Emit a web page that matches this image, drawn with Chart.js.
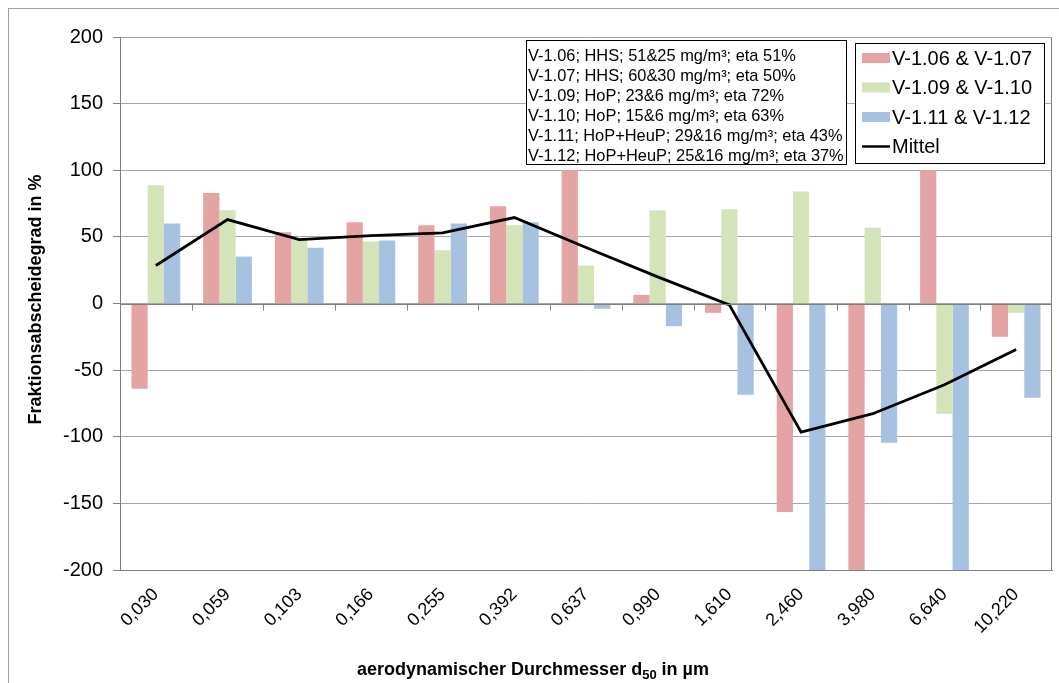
<!DOCTYPE html>
<html>
<head>
<meta charset="utf-8">
<script src="https://cdn.jsdelivr.net/npm/chart.js@4.4.1/dist/chart.umd.min.js"></script>
<style>
  html, body { margin: 0; padding: 0; background: #fff; }
  #wrap { width: 1059px; height: 683px; position: relative; }
</style>
</head>
<body>
<div id="wrap"><canvas id="c" width="1059" height="683"></canvas></div>
<script>
// d50 classes (µm)
const categories = ['0,030', '0,059', '0,103', '0,166', '0,255', '0,392', '0,637', '0,990', '1,610', '2,460', '3,980', '6,640', '10,220'];

// Fraktionsabscheidegrad in %
const v0607 = [-64, 83, 53.5, 61, 58.7, 73, 100, 6.5, -7, -156.5, -201, 100, -25];
const v0910 = [88.7, 70, 48, 46.5, 40, 58.7, 28.5, 69.8, 70.8, 84, 56.8, -82.8, -7];
const v1112 = [60, 35.2, 41.8, 47.2, 60, 61, -4, -17, -68.5, -217, -104.5, -205, -70.8];
const mittel = [28.5, 63, 48, 51, 53, 64.5, 42, 20, -1, -96.5, -82.7, -61, -34.5];

const seriesNames = ['V-1.06 & V-1.07', 'V-1.09 & V-1.10', 'V-1.11 & V-1.12', 'Mittel'];
const seriesColors = ['#e5a4a4', '#d5e3b8', '#a7c1e1', '#000000'];

const yTicks = [-200, -150, -100, -50, 0, 50, 100, 150, 200];

const notes = [
    'V-1.06; HHS; 51&25 mg/m³; eta 51%',
    'V-1.07; HHS; 60&30 mg/m³; eta 50%',
    'V-1.09; HoP; 23&6 mg/m³; eta 72%',
    'V-1.10; HoP; 15&6 mg/m³; eta 63%',
    'V-1.11; HoP+HeuP; 29&16 mg/m³; eta 43%',
    'V-1.12; HoP+HeuP; 25&16 mg/m³; eta 37%'
];

const FONT = "'Liberation Sans', Arial, sans-serif";

// frame, right border, tick marks on the zero line
const framePlugin = {
    id: 'frame',
    beforeDraw(chart) {
        const ctx = chart.ctx;
        ctx.save();
        ctx.fillStyle = '#fff';
        ctx.fillRect(0, 0, chart.width, chart.height);
        ctx.strokeStyle = '#a0a0a0';
        ctx.lineWidth = 1;
        ctx.strokeRect(8.5, 8.5, chart.width + 20, chart.height + 20);
        ctx.restore();
    },
    afterDatasetsDraw(chart) {
        const ctx = chart.ctx;
        const a = chart.chartArea;
        const x = chart.scales.x;
        const y0 = Math.round(chart.scales.y.getPixelForValue(0)) + 0.5;
        ctx.save();
        ctx.strokeStyle = '#7f7f7f';
        ctx.lineWidth = 1;
        ctx.beginPath();
        ctx.moveTo(Math.round(a.right) - 0.5, a.top);
        ctx.lineTo(Math.round(a.right) - 0.5, a.bottom);
        ctx.stroke();
        ctx.beginPath();
        ctx.moveTo(a.left, y0);
        ctx.lineTo(a.right, y0);
        for (let i = 1; i < categories.length; i++) {
            const px = Math.round((x.getPixelForValue(i - 1) + x.getPixelForValue(i)) / 2) + 0.5;
            ctx.moveTo(px, y0);
            ctx.lineTo(px, y0 + 6);
        }
        ctx.stroke();
        ctx.restore();
    }
};

// axis titles, note box and legend box
const textPlugin = {
    id: 'texts',
    afterDraw(chart) {
        const ctx = chart.ctx;
        const a = chart.chartArea;
        ctx.save();

        // y title
        ctx.fillStyle = '#000';
        ctx.font = 'bold 18px ' + FONT;
        ctx.textAlign = 'center';
        ctx.textBaseline = 'middle';
        ctx.translate(36, (a.top + a.bottom) / 2 - 4);
        ctx.rotate(-Math.PI / 2);
        ctx.fillText('Fraktionsabscheidegrad in %', 0, 0);
        ctx.setTransform(1, 0, 0, 1, 0, 0);

        // x title with subscript
        const p1 = 'aerodynamischer Durchmesser d';
        const sub = '50';
        const p2 = ' in µm';
        ctx.textBaseline = 'alphabetic';
        ctx.textAlign = 'left';
        ctx.font = 'bold 18px ' + FONT;
        const w1 = ctx.measureText(p1).width;
        const w3 = ctx.measureText(p2).width;
        ctx.font = 'bold 13px ' + FONT;
        const w2 = ctx.measureText(sub).width;
        let tx = 533 - (w1 + w2 + w3) / 2;
        const ty = 675;
        ctx.font = 'bold 18px ' + FONT;
        ctx.fillText(p1, tx, ty);
        ctx.font = 'bold 13px ' + FONT;
        ctx.fillText(sub, tx + w1, ty + 4);
        ctx.font = 'bold 18px ' + FONT;
        ctx.fillText(p2, tx + w1 + w2, ty);

        // note box
        ctx.fillStyle = '#fff';
        ctx.fillRect(526, 40, 320, 124);
        ctx.strokeStyle = '#000';
        ctx.lineWidth = 1;
        ctx.strokeRect(526.5, 40.5, 320, 124);
        ctx.fillStyle = '#000';
        ctx.font = '16.4px ' + FONT;
        ctx.textBaseline = 'middle';
        notes.forEach((t, i) => ctx.fillText(t, 528, 56 + i * 20.1));

        // legend box
        ctx.fillStyle = '#fff';
        ctx.fillRect(855, 43, 189, 120);
        ctx.strokeStyle = '#000';
        ctx.strokeRect(855.5, 43.5, 189, 120);
        ctx.font = '20px ' + FONT;
        chart.data.datasets.forEach((ds, i) => {
            const cy = 58 + i * 29.5;
            if (ds.type === 'line') {
                ctx.strokeStyle = ds.borderColor;
                ctx.lineWidth = 2.5;
                ctx.beginPath();
                ctx.moveTo(862, cy);
                ctx.lineTo(890, cy);
                ctx.stroke();
            } else {
                ctx.fillStyle = ds.backgroundColor;
                ctx.fillRect(862, cy - 5, 28, 10);
            }
            ctx.fillStyle = '#000';
            ctx.fillText(ds.label, 892, cy + 1);
        });
        ctx.restore();
    }
};

new Chart(document.getElementById('c').getContext('2d'), {
    data: {
        labels: categories,
        datasets: [
            { type: 'bar', label: seriesNames[0], data: v0607, backgroundColor: seriesColors[0], order: 2, clip: 0 },
            { type: 'bar', label: seriesNames[1], data: v0910, backgroundColor: seriesColors[1], order: 2, clip: 0 },
            { type: 'bar', label: seriesNames[2], data: v1112, backgroundColor: seriesColors[2], order: 2, clip: 0 },
            { type: 'line', label: seriesNames[3], data: mittel, borderColor: seriesColors[3], borderWidth: 2.8,
              pointRadius: 0, tension: 0, fill: false, order: 1, clip: 0 }
        ]
    },
    options: {
        responsive: false,
        animation: false,
        datasets: { bar: { categoryPercentage: 0.68, barPercentage: 1.0 } },
        layout: { padding: { top: 37, right: 7, left: 0, bottom: 0 } },
        plugins: {
            legend: { display: false },
            tooltip: { enabled: false },
            title: { display: false }
        },
        scales: {
            x: {
                grid: { display: false, drawTicks: false },
                border: { display: true, color: '#7f7f7f', width: 1 },
                ticks: {
                    color: '#000',
                    font: { family: FONT, size: 18 },
                    minRotation: 45,
                    maxRotation: 45,
                    padding: 14,
                    autoSkip: false
                },
                afterFit(scale) { scale.height = 113; }
            },
            y: {
                min: -200,
                max: 200,
                afterBuildTicks(scale) { scale.ticks = yTicks.map(v => ({ value: v })); },
                grid: {
                    color: '#a6a6a6',
                    tickLength: 7,
                    tickColor: '#7f7f7f'
                },
                border: { display: true, color: '#7f7f7f', width: 1 },
                ticks: {
                    color: '#000',
                    font: { family: FONT, size: 20 },
                    padding: 10
                },
                afterFit(scale) { scale.width = 120; }
            }
        }
    },
    plugins: [framePlugin, textPlugin]
});
</script>
</body>
</html>
